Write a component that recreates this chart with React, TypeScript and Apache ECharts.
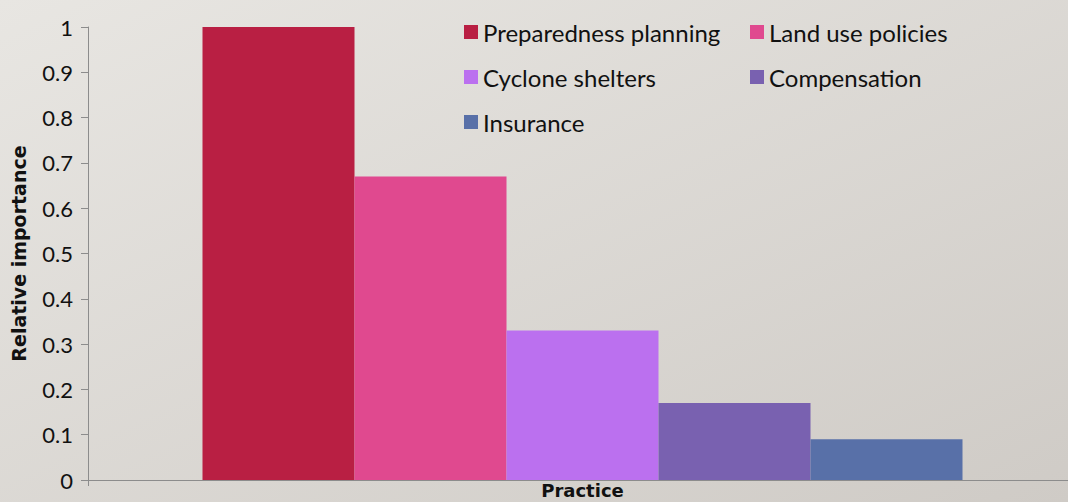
import React, { useEffect, useRef } from "react";
import * as echarts from "echarts";

const categories = ["Practice"];
const seriesNames = [
  "Preparedness planning",
  "Land use policies",
  "Cyclone shelters",
  "Compensation",
  "Insurance",
];
const seriesValues = [1.0, 0.67, 0.33, 0.17, 0.09];
const seriesColors = ["#b91f43", "#e0498f", "#bb70ef", "#7961b0", "#5870a8"];
const yTickLabels: Record<string, string> = {
  "0": "0", "0.1": "0.1", "0.2": "0.2", "0.3": "0.3", "0.4": "0.4",
  "0.5": "0.5", "0.6": "0.6", "0.7": "0.7", "0.8": "0.8", "0.9": "0.9", "1": "1",
};

const FONT = "Lato, 'Open Sans', sans-serif";
const BOLD_FONT = "'DejaVu Sans', Lato, sans-serif";

export default function App() {
  const ref = useRef<HTMLDivElement>(null);
  useEffect(() => {
    document.body.style.margin = "0";
    const chart = echarts.init(ref.current!, null, { renderer: "svg" });
    const legendText = { fontFamily: FONT, fontSize: 24, color: "#111" };
    chart.setOption({
      animation: false,
      backgroundColor: {
        type: "linear",
        x: 0, y: 0, x2: 1, y2: 1,
        colorStops: [
          { offset: 0, color: "#e8e6e2" },
          { offset: 1, color: "#cfcbc6" },
        ],
      },
      textStyle: { fontFamily: FONT },
      legend: [
        {
          data: [seriesNames[0], seriesNames[2], seriesNames[4]],
          orient: "vertical",
          left: 459,
          top: 15,
          itemWidth: 14,
          itemHeight: 14,
          itemGap: 21,
          icon: "rect",
          textStyle: legendText,
        },
        {
          data: [seriesNames[1], seriesNames[3]],
          orient: "vertical",
          left: 745,
          top: 15,
          itemWidth: 14,
          itemHeight: 14,
          itemGap: 21,
          icon: "rect",
          textStyle: legendText,
        },
      ],
      grid: { left: 88, right: -9, top: 27, bottom: 22, containLabel: false, outerBoundsMode: "none" },
      xAxis: {
        type: "category",
        data: categories,
        name: "Practice",
        nameLocation: "middle",
        nameGap: 1,
        nameTextStyle: { fontFamily: BOLD_FONT, fontSize: 18, fontWeight: "bold", color: "#111" },
        axisLine: { lineStyle: { color: "#8c8c8c", width: 1 } },
        axisTick: { show: true, length: 6, lineStyle: { color: "#8c8c8c" } },
        axisLabel: { show: false },
      },
      yAxis: {
        type: "value",
        min: 0,
        max: 1,
        interval: 0.1,
        name: "Relative importance",
        nameLocation: "middle",
        nameGap: 60,
        nameRotate: 90,
        nameTextStyle: { fontFamily: BOLD_FONT, fontSize: 19, fontWeight: "bold", color: "#111" },
        axisLine: { show: true, lineStyle: { color: "#8c8c8c", width: 1 } },
        axisTick: { show: true, length: 7, lineStyle: { color: "#8c8c8c" } },
        splitLine: { show: false },
        axisLabel: {
          fontFamily: FONT,
          fontSize: 22,
          color: "#111",
          margin: 15,
          formatter: (v: number) => yTickLabels[String(Math.round(v * 10) / 10)] ?? String(v),
        },
      },
      series: seriesNames.map((name, i) => ({
        name,
        type: "bar",
        data: [seriesValues[i]],
        barWidth: 152,
        barGap: "0%",
        itemStyle: { color: seriesColors[i] },
      })),
    });
    return () => chart.dispose();
  }, []);
  return <div ref={ref} style={{ width: 1068, height: 502 }} />;
}
